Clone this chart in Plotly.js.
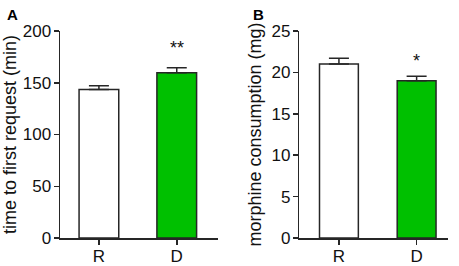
<!DOCTYPE html>
<html>
<head>
<meta charset="utf-8">
<script src="https://cdn.plot.ly/plotly-3.0.1.min.js"></script>
<style>html,body{margin:0;padding:0;background:#fff;}#chart{width:459px;height:266px;}</style>
</head>
<body>
<div id="chart"></div>
<script>
// Data
var groups = ['R', 'D'];
var timeToRequest = [143.5, 159.7];
var timeToRequestErr = [3.5, 4.8];
var morphine = [21.0, 19.0];
var morphineErr = [0.7, 0.55];
var barColors = ['#ffffff', '#00c000'];
var sigA = '**';
var sigB = '*';

var FONT = 'Arial, "Liberation Sans", sans-serif';
var dark = '#262626';

var traces = [
  {
    type: 'bar', x: groups, y: timeToRequest, xaxis: 'x', yaxis: 'y',
    width: 0.51,
    marker: {color: barColors, line: {color: dark, width: 1.5}},
    error_y: {type: 'data', array: timeToRequestErr, arrayminus: [0, 0], symmetric: false,
              color: dark, thickness: 1.5, width: 10},
    hoverinfo: 'none'
  },
  {
    type: 'bar', x: groups, y: morphine, xaxis: 'x2', yaxis: 'y2',
    width: 0.5,
    marker: {color: barColors, line: {color: dark, width: 1.5}},
    error_y: {type: 'data', array: morphineErr, arrayminus: [0, 0], symmetric: false,
              color: dark, thickness: 1.5, width: 10},
    hoverinfo: 'none'
  }
];

var yTop = 1 - 31 / 266, yBot = 1 - 238 / 266;
var axisCommon = {
  showline: true, linecolor: dark, linewidth: 1.5, showgrid: false, zeroline: false,
  ticks: 'outside', ticklen: 5, tickwidth: 1.5, tickcolor: dark,
  tickfont: {family: FONT, size: 17, color: '#111'}
};

var layout = {
  width: 459, height: 266,
  margin: {l: 0, r: 0, t: 0, b: 0},
  paper_bgcolor: '#fff', plot_bgcolor: '#fff',
  showlegend: false,
  font: {family: FONT, color: '#111'},
  xaxis: Object.assign({}, axisCommon, {
    domain: [60 / 459, 218 / 459], anchor: 'y', type: 'category',
    range: [-0.5, 1.53], ticklabelstandoff: -3
  }),
  yaxis: Object.assign({}, axisCommon, {
    domain: [yBot, yTop], anchor: 'x', range: [0, 200], tickvals: [0, 50, 100, 150, 200],
    ticklabelstandoff: -1,
    title: {text: 'time to first request (min)', font: {family: FONT, size: 18, color: '#111'}, standoff: 5}
  }),
  xaxis2: Object.assign({}, axisCommon, {
    domain: [299.3 / 459, 447.7 / 459], anchor: 'y2', type: 'category',
    range: [-0.51, 1.40], ticklabelstandoff: -3
  }),
  yaxis2: Object.assign({}, axisCommon, {
    domain: [yBot, yTop], anchor: 'x2', range: [0, 25], tickvals: [0, 5, 10, 15, 20, 25],
    ticklabelstandoff: -1,
    title: {text: 'morphine consumption (mg)', font: {family: FONT, size: 18, color: '#111'}, standoff: 5}
  }),
  annotations: [
    {xref: 'x', yref: 'y', x: 'D', y: 184, text: sigA, showarrow: false,
     font: {family: FONT, size: 18, color: '#111'}},
    {xref: 'x2', yref: 'y2', x: 'D', y: 21.4, text: sigB, showarrow: false,
     font: {family: FONT, size: 18, color: '#111'}},
    {xref: 'paper', yref: 'paper', x: 5 / 459, y: 1 - 4 / 266, xanchor: 'left', yanchor: 'top',
     text: '<b>A</b>', showarrow: false, font: {family: FONT, size: 15, color: '#000'}},
    {xref: 'paper', yref: 'paper', x: 251 / 459, y: 1 - 4 / 266, xanchor: 'left', yanchor: 'top',
     text: '<b>B</b>', showarrow: false, font: {family: FONT, size: 15, color: '#000'}}
  ]
};

Plotly.newPlot('chart', traces, layout, {staticPlot: true, displayModeBar: false});
</script>
</body>
</html>
